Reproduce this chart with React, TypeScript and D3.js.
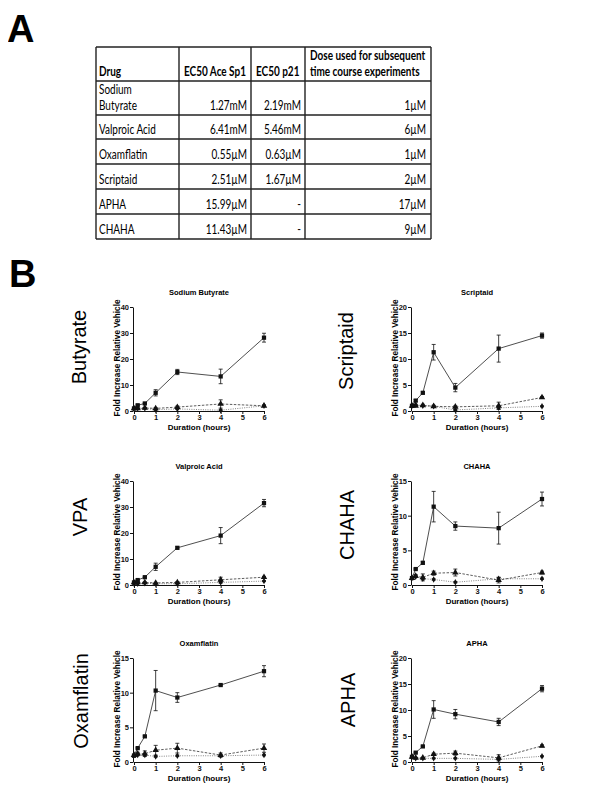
import React, { useEffect, useRef } from 'react';
import * as d3 from 'd3';

// time points (hours)
const times = [0, 0.17, 0.5, 1, 2, 4, 6];

// table (panel A)
const drugs = ['Sodium Butyrate', 'Valproic Acid', 'Oxamflatin', 'Scriptaid', 'APHA', 'CHAHA'];
const ec50Sp1 = ['1.27mM', '6.41mM', '0.55µM', '2.51µM', '15.99µM', '11.43µM'];
const ec50P21 = ['2.19mM', '5.46mM', '0.63µM', '1.67µM', '-', '-'];
const doses = ['1µM', '6µM', '1µM', '2µM', '17µM', '9µM'];
const headers = ['Drug', 'EC50 Ace Sp1', 'EC50 p21', 'Dose used for subsequent|time course experiments'];

// Sodium butyrate
const butSq = [1, 2.2, 2.9, 7, 15, 13.3, 28.2];
const butSqErr = [0.2, 0.2, 0.2, 1.2, 1, 2.8, 1.7];
const butTri = [1, 1, 1.2, 1, 1.5, 2.7, 2];
const butTriErr = [0.1, 0.1, 0.2, 0.3, 0.4, 1.6, 0.3];
const butDia = [1, 1, 1, 0.5, 0.8, 0.3, 2];
const butDiaErr = [0.1, 0.1, 0.1, 0.2, 0.2, 0.2, 0.2];

// Scriptaid
const scrSq = [1, 2, 3.5, 11.3, 4.5, 12, 14.5];
const scrSqErr = [0.1, 0.2, 0.2, 1.5, 0.8, 2.6, 0.5];
const scrTri = [1, 1, 1.1, 0.9, 0.8, 1, 2.6];
const scrTriErr = [0.1, 0.1, 0.2, 0.2, 0.2, 0.7, 0.2];
const scrDia = [1, 1.2, 1, 0.9, 0.2, 0.6, 0.9];
const scrDiaErr = [0.1, 0.1, 0.1, 0.1, 0.1, 0.2, 0.1];

// Valproic acid
const vpaSq = [1, 1.9, 3, 7, 14.3, 19, 31.5];
const vpaSqErr = [0.2, 0.2, 0.3, 1.4, 0.4, 3.1, 1.4];
const vpaTri = [1, 1, 1, 0.8, 1, 2, 3];
const vpaTriErr = [0.1, 0.2, 0.2, 0.2, 0.3, 1, 0.3];
const vpaDia = [0.5, 0.5, 0.7, 0.5, 0.5, 1, 1.5];
const vpaDiaErr = [0.1, 0.1, 0.1, 0.1, 0.1, 0.3, 0.2];

// CHAHA
const chaSq = [1, 2.3, 3.2, 11.3, 8.5, 8.2, 12.4];
const chaSqErr = [0.1, 0.1, 0.2, 2.2, 0.6, 2.3, 1];
const chaTri = [1, 1.3, 1.1, 1.7, 1.8, 0.7, 1.8];
const chaTriErr = [0.1, 0.2, 0.5, 0.3, 0.5, 0.4, 0.2];
const chaDia = [1, 1.2, 0.9, 0.8, 0.4, 0.9, 0.9];
const chaDiaErr = [0.1, 0.1, 0.1, 0.1, 0.1, 0.2, 0.1];

// Oxamflatin
const oxaSq = [0.9, 2, 3.7, 10.3, 9.3, 11.1, 13.1];
const oxaSqErr = [0.1, 0.1, 0.1, 2.9, 0.7, 0.1, 0.8];
const oxaTri = [1, 1.2, 1.2, 1.7, 2, 1, 2];
const oxaTriErr = [0.1, 0.2, 0.4, 0.7, 0.7, 0.3, 0.6];
const oxaDia = [1, 1, 1, 0.8, 0.9, 0.9, 1];
const oxaDiaErr = [0.1, 0.1, 0.1, 0.1, 0.1, 0.1, 0.1];

// APHA
const aphSq = [1, 1.8, 3, 10.1, 9.2, 7.7, 14.1];
const aphSqErr = [0.1, 0.1, 0.1, 1.7, 0.9, 0.7, 0.6];
const aphTri = [1, 0.8, 0.8, 1.5, 1.7, 0.8, 3.1];
const aphTriErr = [0.1, 0.1, 0.1, 0.2, 0.4, 0.6, 0.2];
const aphDia = [1, 0.7, 0.7, 0.7, 0.7, 0.5, 1.1];
const aphDiaErr = [0.1, 0.1, 0.1, 0.1, 0.1, 0.1, 0.1];

const panels = [
  { title: 'Sodium Butyrate', label: 'Butyrate', sq: butSq, sqE: butSqErr, tri: butTri, triE: butTriErr, dia: butDia, diaE: butDiaErr, yMax: 40, step: 10, left: 134, top: 307, lx: 86, ly: 347 },
  { title: 'Scriptaid', label: 'Scriptaid', sq: scrSq, sqE: scrSqErr, tri: scrTri, triE: scrTriErr, dia: scrDia, diaE: scrDiaErr, yMax: 20, step: 5, left: 412, top: 307, lx: 353, ly: 351 },
  { title: 'Valproic Acid', label: 'VPA', sq: vpaSq, sqE: vpaSqErr, tri: vpaTri, triE: vpaTriErr, dia: vpaDia, diaE: vpaDiaErr, yMax: 40, step: 10, left: 134, top: 481, lx: 87, ly: 517 },
  { title: 'CHAHA', label: 'CHAHA', sq: chaSq, sqE: chaSqErr, tri: chaTri, triE: chaTriErr, dia: chaDia, diaE: chaDiaErr, yMax: 15, step: 5, left: 412, top: 481, lx: 354, ly: 525 },
  { title: 'Oxamflatin', label: 'Oxamflatin', sq: oxaSq, sqE: oxaSqErr, tri: oxaTri, triE: oxaTriErr, dia: oxaDia, diaE: oxaDiaErr, yMax: 15, step: 5, left: 134, top: 658, lx: 88, ly: 701 },
  { title: 'APHA', label: 'APHA', sq: aphSq, sqE: aphSqErr, tri: aphTri, triE: aphTriErr, dia: aphDia, diaE: aphDiaErr, yMax: 20, step: 5, left: 412, top: 658, lx: 355, ly: 700 },
];

const ARIAL = 'Arial, "Liberation Sans", sans-serif';
const TABLE_FONT = 'Lato, "Open Sans", sans-serif';

export default function App() {
  const ref = useRef<SVGSVGElement>(null);

  useEffect(() => {
    const svg = d3.select(ref.current);
    svg.selectAll('*').remove();

    // panel letters
    svg.append('text').attr('x', 7).attr('y', 42).text('A')
      .style('font-family', ARIAL).style('font-weight', 'bold').style('font-size', '38px');
    svg.append('text').attr('x', 9).attr('y', 287).text('B')
      .style('font-family', ARIAL).style('font-weight', 'bold').style('font-size', '38px');

    // ---- table ----
    const colX = [96, 179, 251, 305, 431];
    const rowY = [47, 81, 115, 139, 164, 189, 214, 239];
    const tbl = svg.append('g');
    const cell = (txt: string, x: number, y: number, anchor: string, bold: boolean) => {
      tbl.append('text')
        .attr('transform', `translate(${x},${y}) scale(0.8,1)`)
        .attr('text-anchor', anchor)
        .style('font-family', TABLE_FONT)
        .style('font-size', '12.5px')
        .style('font-weight', bold ? 'bold' : 'normal')
        .text(txt);
    };

    headers.forEach((h, i) => {
      const lines = h.split('|');
      lines.forEach((ln, j) => cell(ln, colX[i] + (i ? 5 : 3), rowY[1] - 5 - (lines.length - 1 - j) * 16, 'start', true));
    });

    drugs.forEach((d, r) => {
      const bottom = rowY[r + 2];
      const tall = bottom - rowY[r + 1] > 30;
      const words = tall ? d.split(' ') : [d];
      words.forEach((w, j) => cell(w, colX[0] + 3, bottom - 5 - (words.length - 1 - j) * 16, 'start', false));
      cell(ec50Sp1[r], colX[2] - 4, bottom - 5, 'end', false);
      cell(ec50P21[r], colX[3] - 4, bottom - 5, 'end', false);
      cell(doses[r], colX[4] - 5, bottom - 5, 'end', false);
    });

    rowY.forEach(y => tbl.append('line').attr('x1', colX[0]).attr('x2', colX[4]).attr('y1', y).attr('y2', y)
      .attr('stroke', '#222').attr('stroke-width', 1.4));
    colX.forEach(x => tbl.append('line').attr('x1', x).attr('x2', x).attr('y1', rowY[0]).attr('y2', rowY[rowY.length - 1])
      .attr('stroke', '#222').attr('stroke-width', 1.4));

    // ---- time course panels ----
    const pw = 130, ph = 104;
    panels.forEach(p => {
      const g = svg.append('g');
      const x = d3.scaleLinear().domain([0, 6]).range([p.left, p.left + pw]);
      const y = d3.scaleLinear().domain([0, p.yMax]).range([p.top + ph, p.top]);

      const xAxis = g.append('g').attr('transform', `translate(0,${p.top + ph})`)
        .call(d3.axisBottom(x).tickValues(d3.range(0, 7)).tickFormat(d3.format('d')).tickSize(3).tickSizeOuter(0).tickPadding(1));
      const yAxis = g.append('g').attr('transform', `translate(${p.left - 1},0)`)
        .call(d3.axisLeft(y).tickValues(d3.range(0, p.yMax + 1, p.step)).tickFormat(d3.format('d')).tickSize(3).tickSizeOuter(0).tickPadding(1));
      [xAxis, yAxis].forEach(a => {
        a.selectAll('path,line').attr('stroke', '#111').attr('stroke-width', 1);
        a.selectAll('text').style('font-family', ARIAL).style('font-weight', 'bold').style('font-size', '7.5px').attr('fill', '#111');
      });

      g.append('text').attr('x', p.left + pw / 2).attr('y', p.top - 12).attr('text-anchor', 'middle')
        .style('font-family', ARIAL).style('font-weight', 'bold').style('font-size', '7.5px').text(p.title);
      g.append('text').attr('x', p.left + pw / 2).attr('y', p.top + ph + 19).attr('text-anchor', 'middle')
        .style('font-family', ARIAL).style('font-weight', 'bold').style('font-size', '8px').text('Duration (hours)');
      g.append('text').attr('transform', `translate(${p.left - 14},${p.top + ph / 2 - 1}) rotate(-90)`).attr('text-anchor', 'middle')
        .style('font-family', ARIAL).style('font-weight', 'bold').style('font-size', '8.2px').text('Fold Increase Relative Vehicle');
      g.append('text').attr('transform', `translate(${p.lx},${p.ly}) rotate(-90)`).attr('text-anchor', 'middle')
        .style('font-family', ARIAL).style('font-size', '20px').text(p.label);

      const series = [
        { v: p.dia, e: p.diaE, stroke: '#666', dash: '1,1.3', shape: d3.symbolDiamond, size: 12 },
        { v: p.tri, e: p.triE, stroke: '#333', dash: '2.5,1.5', shape: d3.symbolTriangle, size: 18 },
        { v: p.sq, e: p.sqE, stroke: '#222', dash: null, shape: d3.symbolSquare, size: 18 },
      ];
      series.forEach(s => {
        const line = d3.line<number>().x((_, i) => x(times[i])).y(d => y(d));
        g.append('path').datum(s.v).attr('d', line).attr('fill', 'none')
          .attr('stroke', s.stroke).attr('stroke-width', 0.8).attr('stroke-dasharray', s.dash);
        s.v.forEach((v, i) => {
          const cx = x(times[i]);
          const y1 = y(v + s.e[i]), y2 = y(Math.max(0, v - s.e[i]));
          g.append('line').attr('x1', cx).attr('x2', cx).attr('y1', y1).attr('y2', y2).attr('stroke', '#111').attr('stroke-width', 0.8);
          [y1, y2].forEach(yy => g.append('line').attr('x1', cx - 2).attr('x2', cx + 2).attr('y1', yy).attr('y2', yy)
            .attr('stroke', '#111').attr('stroke-width', 0.8));
        });
        g.selectAll(null).data(s.v).enter().append('path')
          .attr('d', d3.symbol().type(s.shape).size(s.size))
          .attr('transform', (d, i) => `translate(${x(times[i])},${y(d)})`)
          .attr('fill', '#111');
      });
    });
  }, []);

  return <svg ref={ref} width={600} height={800} style={{ display: 'block', margin: '-8px', background: '#fff' }} />;
}
